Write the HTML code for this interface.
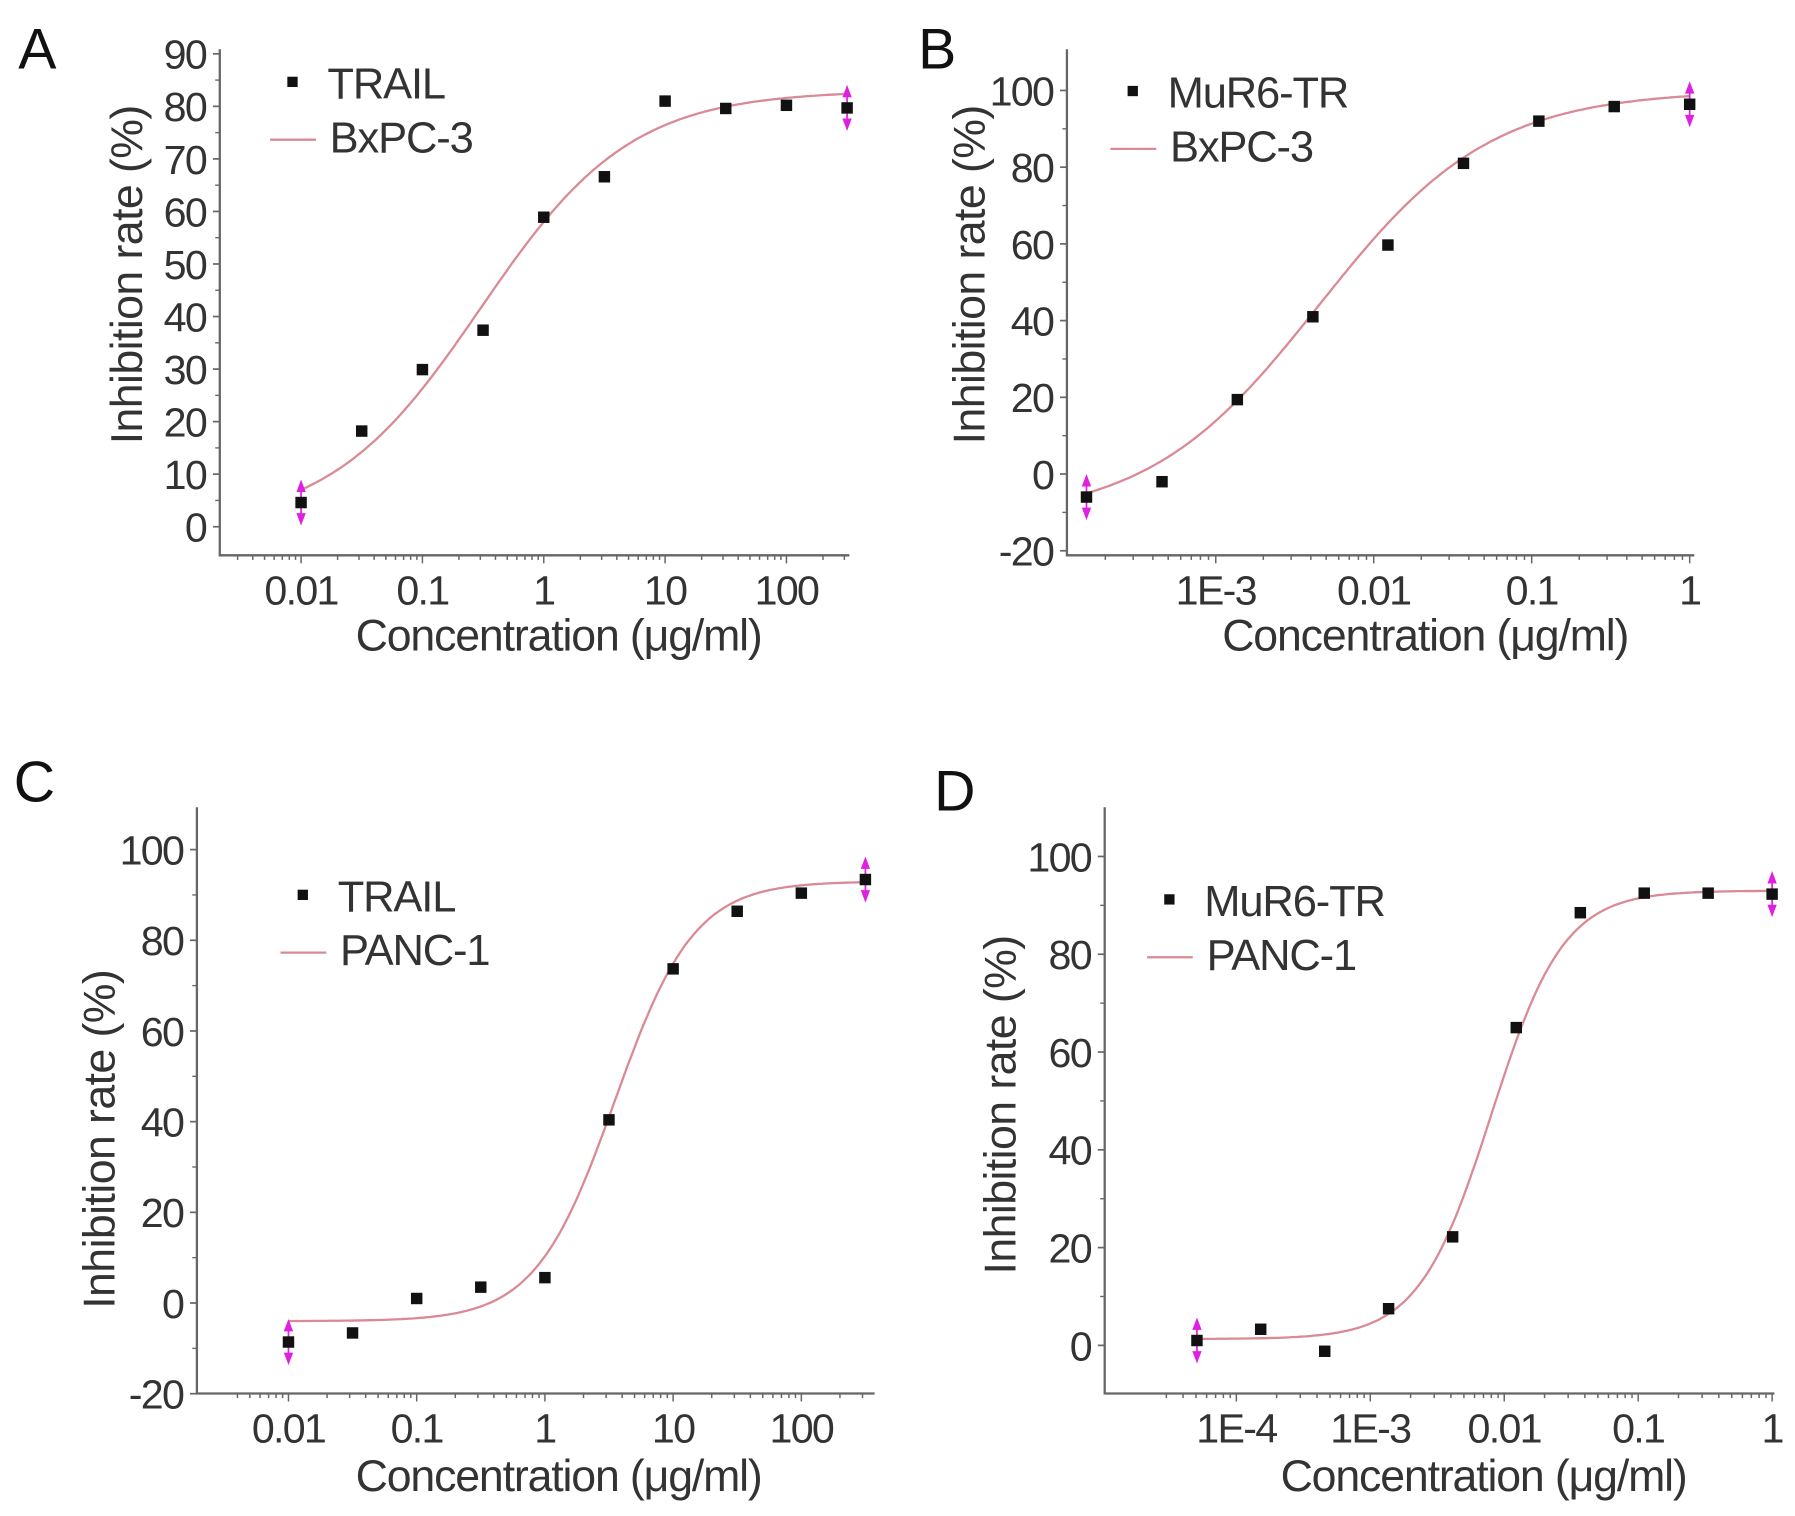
<!DOCTYPE html>
<html><head><meta charset="utf-8"><style>
html,body{margin:0;padding:0;background:#fff;}
svg{display:block;font-family:"Liberation Sans",Arial,sans-serif;}
</style></head><body>
<svg id="fig" width="1795" height="1516" viewBox="0 0 1568 1324" preserveAspectRatio="none" xmlns="http://www.w3.org/2000/svg"></svg>
<script>
// Panel A data
const aX=[0.01,0.0316,0.1,0.316,1,3.16,10,31.6,100,316];
const aY=[4.6,18.2,29.9,37.4,58.9,66.6,81,79.6,80.2,79.7];
const aFit=[0,83,0.3,0.7];
// Panel B data
const bX=[1.52e-4,4.57e-4,1.37e-3,4.12e-3,0.0123,0.037,0.111,0.333,1];
const bY=[-6,-2,19.4,41,59.7,81,92,95.8,96.4];
const bFit=[-12,100,0.0045,0.8];
// Panel C data
const cX=[0.01,0.0316,0.1,0.316,1,3.16,10,31.6,100,316];
const cY=[-8.6,-6.6,1,3.5,5.6,40.4,73.7,86.4,90.4,93.4];
const cFit=[-4,93,3.5,1.4];
// Panel D data
const dX=[5.08e-5,1.52e-4,4.57e-4,1.37e-3,4.12e-3,0.0123,0.037,0.111,0.333,1];
const dY=[1,3.3,-1.2,7.5,22.2,65,88.5,92.5,92.5,92.3];
const dFit=[1.3,93,0.008,1.6];
const aYTicks=[0,10,20,30,40,50,60,70,80,90];
const bYTicks=[-20,0,20,40,60,80,100];
const cYTicks=[-20,0,20,40,60,80,100];
const dYTicks=[0,20,40,60,80,100];
const aXTicks=["0.01","0.1","1","10","100"];
const bXTicks=["1E-3","0.01","0.1","1"];
const cXTicks=["0.01","0.1","1","10","100"];
const dXTicks=["1E-4","1E-3","0.01","0.1","1"];

const NS="http://www.w3.org/2000/svg";
const svg=document.getElementById('fig');
function el(tag,attrs,parent,text){const e=document.createElementNS(NS,tag);for(const k in attrs)e.setAttribute(k,attrs[k]);if(text!==undefined)e.textContent=text;(parent||svg).appendChild(e);return e;}

const panels=[
 {id:'a',letter:'A',lx:16,ly:60,X:aX,Y:aY,fit:aFit,yt:aYTicks,yStep:10,xt:aXTicks,
  ax:192,axTop:43,axBot:485,axRight:742,y0:460,yPer:(460-47)/90,
  dec0:-2,dec0px:263,decPx:106,xmin:0.0025,xmax:330,
  lab:['TRAIL','BxPC-3'],legX:256,legY:72,xTitleX:488,xTitleY:568,yTitleX:124,yTitleY:240},
 {id:'b',letter:'B',lx:802,ly:60,X:bX,Y:bY,fit:bFit,yt:bYTicks,yStep:20,xt:bXTicks,
  ax:932,axTop:43,axBot:485,axRight:1480,y0:414,yPer:3.35,
  dec0:-3,dec0px:1062,decPx:138,xmin:1.2e-4,xmax:1.05,
  lab:['MuR6-TR','BxPC-3'],legX:990,legY:80,xTitleX:1245,xTitleY:568,yTitleX:860,yTitleY:240},
 {id:'c',letter:'C',lx:12,ly:700,X:cX,Y:cY,fit:cFit,yt:cYTicks,yStep:20,xt:cXTicks,
  ax:172,axTop:705,axBot:1217,axRight:764,y0:1138,yPer:3.96,
  dec0:-2,dec0px:252,decPx:112,xmin:0.004,xmax:340,
  lab:['TRAIL','PANC-1'],legX:265,legY:782,xTitleX:488,xTitleY:1302,yTitleX:100,yTitleY:995},
 {id:'d',letter:'D',lx:816,ly:708,X:dX,Y:dY,fit:dFit,yt:dYTicks,yStep:20,xt:dXTicks,
  ax:965,axTop:705,axBot:1217,axRight:1550,y0:1175,yPer:4.27,
  dec0:-4,dec0px:1080,decPx:117,xmin:2.5e-5,xmax:1.02,
  lab:['MuR6-TR','PANC-1'],legX:1022,legY:786,xTitleX:1296,xTitleY:1302,yTitleX:887,yTitleY:965}
];

panels.forEach(p=>{
  const g=el('g',{},svg);
  
  
  const xs=v=>p.dec0px+(Math.log10(v)-p.dec0)*p.decPx;
  const ys=v=>p.y0-v*p.yPer;
  const L=el('text',{x:p.lx,y:p.ly,'font-size':50,fill:'#111'},g,p.letter);
  
  
  const axes=el('path',{d:`M${p.ax},${p.axTop}V${p.axBot}H${p.axRight}`,stroke:'#666','stroke-width':2,fill:'none'},g);
  
  
  p.yt.forEach((t,i)=>{
    const y=ys(t);
    el('line',{x1:p.ax-6,x2:p.ax,y1:y,y2:y,stroke:'#666','stroke-width':1.5},g);
    if(i<p.yt.length-1){const ym=ys(t+p.yStep/2);el('line',{x1:p.ax-4,x2:p.ax,y1:ym,y2:ym,stroke:'#666','stroke-width':1.2},g);}
    const tx=el('text',{x:p.ax-12,y:y+13,'font-size':36,'text-anchor':'end',fill:'#333','letter-spacing':-1.5},g,String(t));
    
    
  });
  const d0=Math.floor(Math.log10(p.xmin)), d1=Math.ceil(Math.log10(p.xmax));
  for(let d=d0;d<=d1;d++){for(let m=1;m<10;m++){const v=m*Math.pow(10,d);if(v<p.xmin||v>p.xmax)continue;const x=xs(v);
    el('line',{x1:x,x2:x,y1:p.axBot,y2:p.axBot+(m===1?7:4),stroke:'#666','stroke-width':1.3},g);}}
  p.xt.forEach((t,i)=>{
    const x=p.dec0px+i*p.decPx;
    const tx=el('text',{x:x,y:p.axBot+43,'font-size':36,'text-anchor':'middle',fill:'#333','letter-spacing':-1.5},g,t);
    
    
  });
  const xt=el('text',{x:p.xTitleX,y:p.xTitleY,'font-size':39,'text-anchor':'middle',fill:'#333','letter-spacing':-1},g,'Concentration (μg/ml)');
  
  
  const yt=el('text',{x:p.yTitleX,y:p.yTitleY,'font-size':39,'text-anchor':'middle',fill:'#333','letter-spacing':-0.5,transform:`rotate(-90 ${p.yTitleX} ${p.yTitleY})`},g,'Inhibition rate (%)');
  
  
  const [b,t,ec,h]=p.fit;
  const f=x=>b+(t-b)/(1+Math.pow(ec/x,h));
  const lx0=Math.log10(p.X[0]), lx1=Math.log10(p.X[p.X.length-1]);
  let d='';for(let i=0;i<=200;i++){const lx=lx0+(lx1-lx0)*i/200;const x=Math.pow(10,lx);d+=(i?'L':'M')+xs(x).toFixed(1)+','+ys(f(x)).toFixed(1);}
  const c=el('path',{d:d,stroke:'#d98a95','stroke-width':2,fill:'none'},g);
  
  
  [0,p.X.length-1].forEach(k=>{
    const x=xs(p.X[k]),y=ys(p.Y[k]);
    el('path',{d:`M${x},${y-18}L${x-3},${y-10}H${x+3}Z M${x},${y+18}L${x-3},${y+10}H${x+3}Z M${x},${y-12}V${y+12}`,stroke:'#e020e0','stroke-width':1.5,fill:'#e020e0'},g);
  });
  p.X.forEach((xv,i)=>{
    const r=el('rect',{x:xs(xv)-5,y:ys(p.Y[i])-5,width:10,height:10,fill:'#111'},g);
    
    
  });
  const lg=el('g',{},g);
  
  
  el('rect',{x:p.legX-5,y:p.legY-5,width:9,height:9,fill:'#111'},lg);
  el('text',{x:p.legX+30,y:p.legY+14,'font-size':38,fill:'#333','letter-spacing':-1},lg,p.lab[0]);
  el('line',{x1:p.legX-20,x2:p.legX+20,y1:p.legY+50,y2:p.legY+50,stroke:'#d98a95','stroke-width':2},lg);
  el('text',{x:p.legX+32,y:p.legY+61,'font-size':38,fill:'#333','letter-spacing':-1},lg,p.lab[1]);
});
</script>
</body></html>
